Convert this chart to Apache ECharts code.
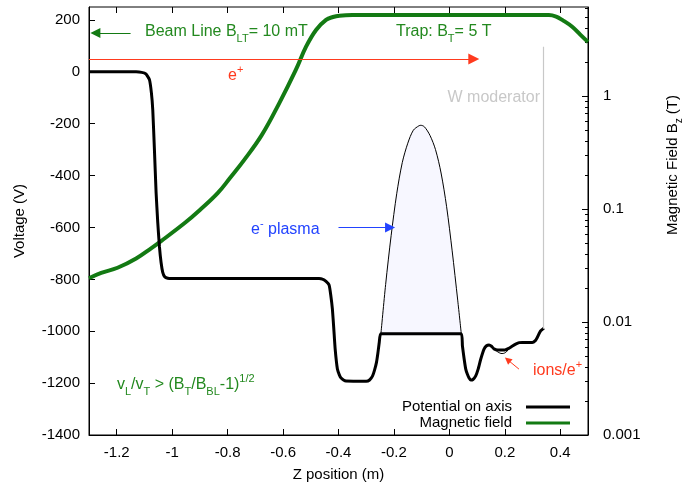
<!DOCTYPE html>
<html>
<head>
<meta charset="utf-8">
<script src="https://cdn.jsdelivr.net/npm/echarts@6/dist/echarts.min.js"></script>
<style>
  html, body { margin: 0; padding: 0; background: #fff; }
  #chart { width: 682px; height: 483px; }
</style>
</head>
<body>
<div id="chart"></div>
<script>
// potential on axis (thick black)
var zPot = [-1.3, -1.13, -1.11, -1.095, -1.082, -1.075, -1.07, -1.064, -1.058, -1.052, -1.046, -1.04, -1.034, -1.027, -1.016, -1.0,
  -0.47, -0.458, -0.445, -0.434, -0.428, -0.422, -0.417, -0.412, -0.404, -0.397, -0.391, -0.382, -0.373,
  -0.3, -0.288, -0.277, -0.27, -0.263, -0.258, -0.253, -0.247, 0.043,
  0.047, 0.053, 0.059, 0.065, 0.071, 0.077, 0.085, 0.095, 0.104, 0.113, 0.125, 0.134, 0.143, 0.152, 0.161,
  0.175, 0.2, 0.214, 0.226, 0.239, 0.252, 0.263, 0.299, 0.31, 0.317, 0.329, 0.341];
var vPot = [0, 0, -2, -8, -30, -80, -146, -300, -465, -580, -673, -735, -773, -790, -796, -797,
  -797, -799, -808, -822, -860, -915, -990, -1069, -1146, -1168, -1180, -1188, -1192,
  -1193, -1188, -1172, -1150, -1120, -1085, -1043, -1010, -1010,
  -1056, -1105, -1146, -1166, -1180, -1188, -1186, -1172, -1145, -1108, -1069, -1056, -1053, -1058, -1068,
  -1072, -1072, -1066, -1058, -1050, -1044, -1043, -1043, -1036, -1024, -999, -988];

// vacuum well filled by the electron plasma (thin line)
var zPlasma = [-0.247, -0.23, -0.21, -0.19, -0.17, -0.15, -0.13, -0.11, -0.103, -0.09, -0.07, -0.05, -0.03, -0.01, 0.01, 0.03, 0.043];
var vPlasma = [-1010, -820, -630, -470, -350, -275, -225, -208, -206, -212, -245, -300, -390, -520, -690, -880, -1010];

// small dip holding ions/e+ (thin line)
var zIons = [0.161, 0.175, 0.19, 0.205, 0.214];
var vIons = [-1068, -1080, -1086, -1080, -1066];

// magnetic field on the right log axis
var zField = [-1.3, -1.256, -1.197, -1.13, -1.076, -1.04, -0.956, -0.9, -0.836, -0.79, -0.74, -0.677, -0.614, -0.554, -0.517, -0.481, -0.445, -0.42, -0.397, -0.35,
  0.359, 0.385, 0.407, 0.443, 0.473, 0.5];
var bField = [0.0244, 0.0272, 0.0302, 0.0365, 0.0449, 0.052, 0.0747, 0.098, 0.138, 0.19, 0.272, 0.45, 0.861, 1.70, 2.73, 3.84, 4.71, 5.0, 5.14, 5.21,
  5.21, 5.05, 4.71, 4.10, 3.47, 3.0];

var xTicks = [-1.2, -1, -0.8, -0.6, -0.4, -0.2, 0, 0.2, 0.4];
var bTicks = [0.001, 0.01, 0.1, 1];
var bMinorTicks = [0.002, 0.003, 0.004, 0.005, 0.006, 0.007, 0.008, 0.009,
  0.02, 0.03, 0.04, 0.05, 0.06, 0.07, 0.08, 0.09,
  0.2, 0.3, 0.4, 0.5, 0.6, 0.7, 0.8, 0.9,
  2, 3, 4, 5, 6];

function pairs(xs, ys) {
  return xs.map(function (x, i) { return [x, ys[i]]; });
}

var FONT = 'Liberation Sans, Arial, Helvetica, sans-serif';
var green = '#23891f', lineGreen = '#137a13', red = '#ff3a1e', blue = '#2243ff', grey = '#c8c8c8';

var richBase = {
  a: { fontSize: 16, lineHeight: 24, fontFamily: FONT },
  s: { fontSize: 11, lineHeight: 14, verticalAlign: 'bottom', fontFamily: FONT },
  p: { fontSize: 11, lineHeight: 14, verticalAlign: 'top', fontFamily: FONT }
};

function label(x, y, text, color, align) {
  return {
    type: 'text', x: x, y: y, z: 100,
    style: { text: text, rich: richBase, fill: color, align: align || 'left', verticalAlign: 'middle' }
  };
}

var myChart = echarts.init(document.getElementById('chart'));

var option = {
  animation: false,
  textStyle: { fontFamily: FONT },
  grid: { left: 89, right: 94, top: 7, bottom: 48, show: true, borderColor: '#000', borderWidth: 1,
    outerBoundsMode: 'none', containLabel: false },
  legend: {
    right: 107, top: 394, orient: 'vertical', align: 'right',
    icon: 'rect', itemWidth: 44, itemHeight: 3, itemGap: 0,
    textStyle: { fontSize: 15, lineHeight: 16, color: '#000', padding: [0, 9, 0, 0] },
    data: ['Potential on axis', 'Magnetic field']
  },
  xAxis: [
    {
      type: 'value', min: -1.3, max: 0.5,
      name: 'Z position (m)', nameLocation: 'middle', nameGap: 32,
      nameTextStyle: { fontSize: 15, color: '#000' },
      axisLine: { onZero: false, lineStyle: { color: '#000' } },
      axisTick: { inside: true, length: 6, customValues: xTicks, lineStyle: { color: '#000' } },
      axisLabel: { customValues: xTicks, fontSize: 15, color: '#000', margin: 10,
        formatter: function (v) { return String(+v.toFixed(1)); } },
      splitLine: { show: false }
    },
    {
      type: 'value', min: -1.3, max: 0.5, position: 'top',
      axisLine: { show: false, onZero: false },
      axisTick: { inside: true, length: 6, customValues: xTicks, lineStyle: { color: '#000' } },
      axisLabel: { show: false },
      splitLine: { show: false }
    }
  ],
  yAxis: [
    {
      type: 'value', min: -1400, max: 250, interval: 200,
      name: 'Voltage (V)', nameLocation: 'middle', nameGap: 62,
      nameTextStyle: { fontSize: 15, color: '#000' },
      axisLine: { show: true, onZero: false, lineStyle: { color: '#000' } },
      axisTick: { show: true, inside: true, length: 6, lineStyle: { color: '#000' } },
      axisLabel: { fontSize: 15, color: '#000', margin: 9, showMaxLabel: false,
        formatter: function (v) { return String(v); } },
      splitLine: { show: false }
    },
    {
      type: 'log', logBase: 10, min: 0.001, max: 6.13, position: 'right',
      axisLine: { show: true, onZero: false, lineStyle: { color: '#000' } },
      axisTick: { show: true, inside: true, length: 6, customValues: bTicks, lineStyle: { color: '#000' } },
      axisLabel: { customValues: bTicks, fontSize: 15, color: '#000', margin: 15,
        formatter: function (v) { return String(+(+v).toPrecision(3)); } },
      splitLine: { show: false }
    },
    {
      type: 'log', logBase: 10, min: 0.001, max: 6.13, position: 'right',
      axisLine: { show: false, onZero: false },
      axisTick: { show: true, inside: true, length: 3, customValues: bMinorTicks, lineStyle: { color: '#000' } },
      axisLabel: { show: false },
      splitLine: { show: false }
    }
  ],
  series: [
    {
      name: 'plasma', type: 'line', data: pairs(zPlasma, vPlasma),
      symbol: 'none', smooth: 0.3, z: 1, silent: true,
      lineStyle: { color: '#000', width: 1 },
      areaStyle: { color: '#f7f7ff', opacity: 1, origin: -1010 }
    },
    {
      name: 'ions', type: 'line', data: pairs(zIons, vIons),
      symbol: 'none', smooth: 0.4, z: 2, silent: true,
      lineStyle: { color: '#000', width: 1 }
    },
    {
      name: 'Potential on axis', type: 'line', data: pairs(zPot, vPot),
      symbol: 'none', smooth: 0.15, z: 4,
      lineStyle: { color: '#000', width: 3 },
      itemStyle: { color: '#000' },
      markLine: {
        silent: true, animation: false,
        symbolSize: 10,
        label: { show: false },
        data: [
          [{ coord: [-1.3, 50], symbol: 'none' }, { coord: [0.088, 50], symbol: 'triangle', symbolSize: 11, lineStyle: { color: red, width: 1.2, type: 'solid' } }],
          [{ coord: [-1.15, 150], symbol: 'none' }, { coord: [-1.277, 150], symbol: 'triangle', symbolSize: 10, lineStyle: { color: lineGreen, width: 1.2, type: 'solid' } }],
          [{ coord: [-0.40, -600], symbol: 'none' }, { coord: [-0.214, -600], symbol: 'triangle', symbolSize: 10, lineStyle: { color: blue, width: 1.2, type: 'solid' } }],
          [{ coord: [0.251, -1146], symbol: 'none' }, { coord: [0.21, -1110], symbol: 'triangle', symbolSize: 7, lineStyle: { color: red, width: 1, type: 'solid' } }],
          [{ coord: [0.339, 97], symbol: 'none' }, { coord: [0.339, -990], symbol: 'none', lineStyle: { color: grey, width: 1.2, type: 'solid' } }]
        ]
      }
    },
    {
      name: 'Magnetic field', type: 'line', yAxisIndex: 1, data: pairs(zField, bField),
      symbol: 'none', smooth: 0.4, z: 3,
      lineStyle: { color: lineGreen, width: 4 },
      itemStyle: { color: lineGreen }
    }
  ],
  graphic: [
    label(145, 32, '{a|Beam Line B}{s|LT}{a|= 10 mT}', green),
    label(396, 32, '{a|Trap: B}{s|T}{a|= 5 T}', green),
    label(228, 76, '{a|e}{p|+}', red),
    label(540, 98, '{a|W moderator}', grey, 'right'),
    label(251, 230, '{a|e}{p|-}{a| plasma}', blue),
    label(533, 371, '{a|ions/e}{p|+}', red),
    label(117, 385, '{a|v}{s|L}{a|/v}{s|T}{a| > (B}{s|T}{a|/B}{s|BL}{a|-1)}{p|1/2}', green),
    {
      type: 'text', x: 673, y: 165, rotation: Math.PI / 2, z: 100,
      style: {
        text: '{b|Magnetic Field B}{t|z}{b| (T)}',
        rich: {
          b: { fontSize: 15, lineHeight: 22, fontFamily: FONT },
          t: { fontSize: 10, lineHeight: 13, verticalAlign: 'bottom', fontFamily: FONT }
        },
        fill: '#000', align: 'center', verticalAlign: 'middle'
      }
    }
  ]
};

myChart.setOption(option);
</script>
</body>
</html>
